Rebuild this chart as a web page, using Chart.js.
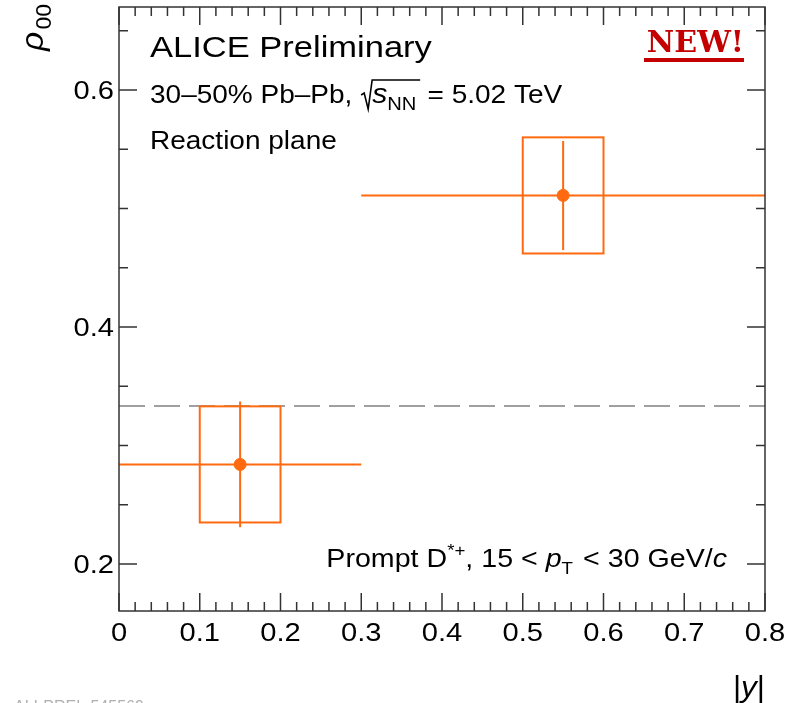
<!DOCTYPE html>
<html>
<head>
<meta charset="utf-8">
<script src="https://cdn.jsdelivr.net/npm/chart.js@4.4.1/dist/chart.umd.min.js"></script>
<style>
  body { margin: 0; background: #fff; }
  canvas { display: block; }
</style>
</head>
<body>
<canvas id="rhoChart" width="798" height="703"></canvas>
<script>
// Data
const binLow = [0.0, 0.3];
const binHigh = [0.3, 0.8];
const yCenter = [0.15, 0.55];
const rho00 = [0.284, 0.511];
const statErr = [0.053, 0.046];
const systErr = [0.049, 0.049];
const systHalfWidth = 0.05;
const noAlignment = 1 / 3;

// Axis ticks
const xMajorTicks = [0, 0.1, 0.2, 0.3, 0.4, 0.5, 0.6, 0.7, 0.8];
const xTickLabels = ['0', '0.1', '0.2', '0.3', '0.4', '0.5', '0.6', '0.7', '0.8'];
const xMinorTicks = [0.02, 0.04, 0.06, 0.08, 0.12, 0.14, 0.16, 0.18, 0.22, 0.24, 0.26, 0.28,
  0.32, 0.34, 0.36, 0.38, 0.42, 0.44, 0.46, 0.48, 0.52, 0.54, 0.56, 0.58,
  0.62, 0.64, 0.66, 0.68, 0.72, 0.74, 0.76, 0.78];
const yMajorTicks = [0.2, 0.4, 0.6];
const yTickLabels = ['0.2', '0.4', '0.6'];
const yMinorTicks = [0.25, 0.3, 0.35, 0.45, 0.5, 0.55, 0.65];

const ORANGE = '#ff6a10';
const SANS = '"Liberation Sans", Arial, Helvetica, sans-serif';
const STRETCH = 1.12; // the original text is a bit wider than Liberation Sans

// draws a list of text pieces one after another, stretched horizontally by sx
// returns the x where the pieces end
function drawRich(ctx, parts, x, y, align, sx) {
    sx = sx || STRETCH;
    let total = 0;
    parts.forEach(p => { ctx.font = p.font; p.w = ctx.measureText(p.text).width + (p.gap || 0); total += p.w; });
    let start = x;
    if (align === 'right') start = x - total * sx;
    if (align === 'center') start = x - total * sx / 2;
    ctx.save();
    ctx.translate(start, y);
    ctx.scale(sx, 1);
    let cx = 0;
    parts.forEach(p => {
        ctx.font = p.font;
        if (p.text) ctx.fillText(p.text, cx + (p.pre || 0), p.dy || 0);
        cx += p.w;
    });
    ctx.restore();
    return start + total * sx;
}

const rootStyle = {
    id: 'rootStyle',
    afterDatasetsDraw(chart) {
        const ctx = chart.ctx;
        const xs = chart.scales.x, ys = chart.scales.y;

        // systematic boxes and error bars
        ctx.save();
        ctx.strokeStyle = ORANGE;
        ctx.lineWidth = 2;
        for (let i = 0; i < rho00.length; i++) {
            const x0 = xs.getPixelForValue(yCenter[i] - systHalfWidth);
            const x1 = xs.getPixelForValue(yCenter[i] + systHalfWidth);
            const y0 = ys.getPixelForValue(rho00[i] + systErr[i]);
            const y1 = ys.getPixelForValue(rho00[i] - systErr[i]);
            ctx.strokeRect(x0, y0, x1 - x0, y1 - y0);

            const py = ys.getPixelForValue(rho00[i]);
            const px = xs.getPixelForValue(yCenter[i]);
            ctx.beginPath();
            ctx.moveTo(xs.getPixelForValue(binLow[i]), py);
            ctx.lineTo(xs.getPixelForValue(binHigh[i]), py);
            ctx.moveTo(px, ys.getPixelForValue(rho00[i] + statErr[i]));
            ctx.lineTo(px, ys.getPixelForValue(rho00[i] - statErr[i]));
            ctx.stroke();
        }
        ctx.restore();
    },
    afterDraw(chart) {
        const ctx = chart.ctx;
        const xs = chart.scales.x, ys = chart.scales.y;
        const a = chart.chartArea;
        ctx.save();

        // frame
        ctx.strokeStyle = '#333';
        ctx.lineWidth = 1.5;
        ctx.strokeRect(a.left, a.top, a.right - a.left, a.bottom - a.top);

        // inward ticks on all four sides
        ctx.beginPath();
        const xt = (v, len) => {
            const p = xs.getPixelForValue(v);
            ctx.moveTo(p, a.bottom); ctx.lineTo(p, a.bottom - len);
            ctx.moveTo(p, a.top); ctx.lineTo(p, a.top + len);
        };
        const yt = (v, len) => {
            const p = ys.getPixelForValue(v);
            ctx.moveTo(a.left, p); ctx.lineTo(a.left + len, p);
            ctx.moveTo(a.right, p); ctx.lineTo(a.right - len, p);
        };
        xMajorTicks.forEach(v => xt(v, 18));
        xMinorTicks.forEach(v => xt(v, 9));
        yMajorTicks.forEach(v => yt(v, 18));
        yMinorTicks.forEach(v => yt(v, 9));
        ctx.stroke();

        // tick labels
        ctx.fillStyle = '#000';
        ctx.textAlign = 'left';
        ctx.textBaseline = 'alphabetic';
        const tickFont = '26px ' + SANS;
        xMajorTicks.forEach((v, i) =>
            drawRich(ctx, [{ text: xTickLabels[i], font: tickFont }], xs.getPixelForValue(v), 641, 'center'));
        yMajorTicks.forEach((v, i) =>
            drawRich(ctx, [{ text: yTickLabels[i], font: tickFont }], 114, ys.getPixelForValue(v) + 9.5, 'right'));

        // axis titles
        drawRich(ctx, [
            { text: '|', font: '30px ' + SANS },
            { text: 'y', font: 'italic 30px ' + SANS },
            { text: '|', font: '30px ' + SANS }
        ], 765, 697, 'right', 1.05);

        ctx.save();
        ctx.translate(43, 6);
        ctx.rotate(-Math.PI / 2);
        drawRich(ctx, [
            { text: 'ρ', font: 'italic 32px ' + SANS },
            { text: '00', font: '22px ' + SANS, dy: 8, pre: 2 }
        ], 0, 0, 'right', 1.05);
        ctx.restore();

        // labels inside the frame
        drawRich(ctx, [{ text: 'ALICE Preliminary', font: '30px ' + SANS }], 150, 57, 'left', 1.15);

        const sx = drawRich(ctx, [{ text: '30–50% Pb–Pb, ', font: '25px ' + SANS }], 150, 103, 'left');
        // square root sign
        ctx.strokeStyle = '#000';
        ctx.lineWidth = 1.6;
        ctx.beginPath();
        ctx.moveTo(sx + 1, 95);
        ctx.lineTo(sx + 4, 93);
        ctx.lineTo(sx + 8, 109);
        ctx.lineTo(sx + 12, 80);
        ctx.lineTo(sx + 60, 80);
        ctx.stroke();
        drawRich(ctx, [
            { text: 's', font: 'italic 27px ' + SANS },
            { text: 'NN', font: '18px ' + SANS, dy: 7, gap: 3 },
            { text: ' = 5.02 TeV', font: '25px ' + SANS }
        ], sx + 12, 103, 'left');

        drawRich(ctx, [{ text: 'Reaction plane', font: '25px ' + SANS }], 150, 149, 'left');

        drawRich(ctx, [
            { text: 'Prompt D', font: '26px ' + SANS },
            { text: '*+', font: '17px ' + SANS, dy: -11 },
            { text: ', 15 < ', font: '26px ' + SANS },
            { text: 'p', font: 'italic 26px ' + SANS },
            { text: 'T', font: '17px ' + SANS, dy: 7, gap: 2 },
            { text: ' < 30 GeV/', font: '26px ' + SANS },
            { text: 'c', font: 'italic 26px ' + SANS }
        ], 727, 567, 'right', 1.1);

        // NEW! badge
        ctx.fillStyle = '#c40000';
        ctx.font = 'bold 30px "DejaVu Serif", "Liberation Serif", serif';
        const nw = ctx.measureText('NEW!').width;
        ctx.fillText('NEW!', 744 - nw, 52);
        ctx.fillRect(644, 58, 100, 4);

        // preliminary figure id, cut off at the bottom edge
        ctx.fillStyle = '#b0b0b0';
        ctx.font = '16px ' + SANS;
        ctx.textBaseline = 'top';
        ctx.fillText('ALI-PREL-545569', 14, 700);

        ctx.restore();
    }
};

const points = rho00.map((v, i) => ({ x: yCenter[i], y: v }));
const refLine = [{ x: 0, y: noAlignment }, { x: 0.8, y: noAlignment }];

new Chart(document.getElementById('rhoChart').getContext('2d'), {
    type: 'scatter',
    data: {
        datasets: [{
            type: 'line',
            data: refLine,
            borderColor: '#a0a0a0',
            borderWidth: 2,
            borderDash: [26, 9],
            pointRadius: 0,
            fill: false
        }, {
            data: points,
            backgroundColor: ORANGE,
            borderColor: ORANGE,
            pointRadius: 6,
            pointHoverRadius: 6
        }]
    },
    options: {
        responsive: false,
        animation: false,
        layout: { padding: { left: 119, right: 33, top: 7, bottom: 92 } },
        scales: {
            x: { type: 'linear', min: 0, max: 0.8, display: false },
            y: { type: 'linear', min: 0.1603, max: 0.6700, display: false }
        },
        plugins: {
            legend: { display: false },
            tooltip: { enabled: false }
        }
    },
    plugins: [rootStyle]
});
</script>
</body>
</html>
